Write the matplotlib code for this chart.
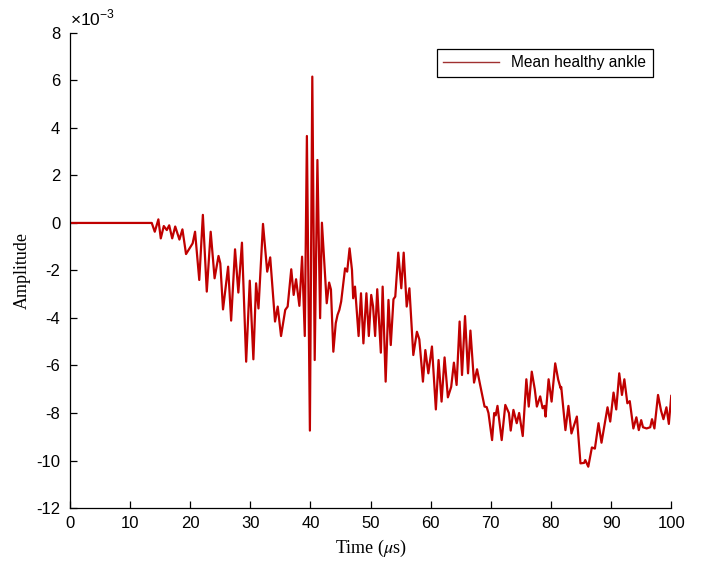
import matplotlib
matplotlib.use("Agg")
import matplotlib.pyplot as plt

plt.rcParams['axes.unicode_minus'] = False
plt.rcParams['mathtext.fontset'] = 'stix'

# time in microseconds
time_us = [0, 13.6, 14.1, 14.7, 15.1, 15.6, 16.1, 16.5, 17.0, 17.5, 18.2, 18.7, 19.3, 20.4, 20.8,
           21.5, 22.1, 22.75, 23.4, 24.05, 24.7, 25.0, 25.45, 26.3, 26.8, 27.45, 28.0, 28.6, 29.3,
           29.9, 30.5, 30.95, 31.35, 32.1, 32.8, 33.3, 34.1, 34.55, 35.1, 35.8, 36.2, 36.8, 37.2,
           37.6, 38.15, 38.6, 39.05, 39.4, 39.9, 40.3, 40.7, 41.15, 41.6, 41.9, 42.4, 42.7, 43.1,
           43.4, 43.8, 44.2, 44.5, 44.8, 45.1, 45.75, 46.1, 46.5, 46.9, 47.1, 47.4, 48.0, 48.4,
           48.8, 49.3, 49.7, 50.1, 50.4, 50.75, 51.1, 51.7, 52.0, 52.5, 52.97, 53.35, 53.8, 54.1,
           54.6, 55.1, 55.5, 56.0, 56.45, 57.1, 57.7, 58.1, 58.7, 59.1, 59.6, 60.2, 60.85, 61.3,
           61.8, 62.3, 62.85, 63.4, 63.85, 64.3, 64.8, 65.2, 65.7, 66.2, 66.6, 67.2, 67.7, 68.2,
           68.95, 69.3, 69.6, 70.2, 70.55, 70.8, 71.1, 71.8, 72.4, 73.0, 73.3, 73.75, 74.3, 74.7,
           75.3, 75.9, 76.3, 76.8, 77.3, 77.65, 78.2, 78.6, 78.9, 79.1, 79.6, 80.1, 80.7, 81.2,
           81.6, 81.7, 82.4, 82.9, 83.4, 84.3, 84.9, 85.5, 85.7, 86.2, 86.8, 87.3, 87.9, 88.4,
           89.4, 89.85, 90.4, 90.85, 91.35, 91.8, 92.2, 92.7, 93.1, 93.7, 94.2, 94.6, 95.0, 95.3,
           95.9, 96.5, 96.8, 97.2, 97.8, 98.3, 98.7, 99.2, 99.6, 100.0]

# amplitude in units of 1e-3
amplitude_e3 = [0, 0, -0.37, 0.15, -0.65, -0.13, -0.3, -0.1, -0.65, -0.15, -0.7, -0.27, -1.31,
                -0.86, -0.37, -2.4, 0.34, -2.89, -0.37, -2.33, -1.39, -1.7, -3.64, -1.84, -4.11,
                -1.11, -2.93, -0.83, -5.84, -2.43, -5.74, -2.54, -3.6, -0.04, -2.05, -1.45, -4.15,
                -3.52, -4.76, -3.66, -3.52, -1.95, -3.03, -2.37, -3.49, -1.42, -4.76, 3.66, -8.74,
                6.16, -5.77, 2.65, -4.01, 0.01, -2.1, -3.38, -2.51, -2.8, -5.42, -4.22, -3.87,
                -3.66, -3.31, -1.91, -2.05, -1.07, -1.98, -3.17, -2.68, -4.76, -2.96, -5.07, -2.96,
                -4.76, -3.03, -3.5, -4.76, -2.79, -5.46, -2.68, -6.68, -3.24, -5.14, -3.21, -3.1,
                -1.25, -2.75, -1.25, -3.52, -2.75, -5.56, -4.58, -4.9, -6.68, -5.35, -6.33, -5.2,
                -7.85, -5.77, -7.52, -5.66, -7.34, -6.9, -5.88, -6.82, -4.15, -6.4, -3.92, -6.33,
                -4.53, -6.72, -6.16, -6.8, -7.73, -7.75, -8.0, -9.14, -8.0, -8.1, -7.7, -9.14, -7.66,
                -8.0, -8.74, -7.87, -8.43, -8.0, -8.97, -6.58, -7.73, -6.26, -7.0, -7.73, -7.3,
                -7.8, -7.7, -8.15, -6.58, -7.52, -5.91, -6.6, -6.96, -6.9, -8.72, -7.7, -8.86,
                -8.15, -10.12, -10.1, -9.98, -10.26, -9.45, -9.5, -8.43, -9.25, -7.76, -8.36,
                -7.14, -7.85, -6.33, -7.24, -6.58, -7.59, -7.5, -8.65, -8.18, -8.72, -8.3, -8.6,
                -8.65, -8.6, -8.26, -8.65, -7.24, -7.9, -8.26, -7.76, -8.46, -7.28]

x_ticks = [0, 10, 20, 30, 40, 50, 60, 70, 80, 90, 100]
y_ticks_e3 = [-12, -10, -8, -6, -4, -2, 0, 2, 4, 6, 8]

fig = plt.figure(figsize=(7.02, 5.67), dpi=100)
ax = fig.add_axes([0.0997, 0.104, 0.8565, 0.838])

ax.plot(time_us, amplitude_e3, color='#c00000', lw=1.6, label='Mean healthy ankle')

ax.set_xlim(0, 100)
ax.set_ylim(-12, 8)
ax.set_xticks(x_ticks)
ax.set_yticks(y_ticks_e3)
ax.set_xticklabels([str(v) for v in x_ticks])
ax.set_yticklabels([str(v) for v in y_ticks_e3])

ax.text(0.0, 1.01, '×10$^{\\mathregular{-3}}$', transform=ax.transAxes, ha='left', va='bottom',
        family='Liberation Sans', fontsize=12.5, math_fontfamily='dejavusans')

for s in ['top', 'right']:
    ax.spines[s].set_visible(False)
for s in ['left', 'bottom']:
    ax.spines[s].set_linewidth(0.9)
ax.tick_params(direction='in', length=5, width=0.9, labelsize=12)
ax.tick_params(axis='x', pad=6)
ax.tick_params(axis='y', pad=7)
for lab in ax.get_xticklabels() + ax.get_yticklabels():
    lab.set_family('Liberation Sans')

ax.set_xlabel('Time ($\\mu$s)', family='Liberation Serif', fontsize=13, labelpad=5)
ax.set_ylabel('Amplitude', family='Liberation Serif', fontsize=13, labelpad=4)

leg = ax.legend(loc='upper right', bbox_to_anchor=(0.982, 0.982), fancybox=False,
                framealpha=1, edgecolor='black', handlelength=3.6,
                prop={'family': 'Liberation Sans', 'size': 11.2})
leg.get_frame().set_linewidth(0.9)
leg.get_lines()[0].set_linewidth(1.0)
leg.get_lines()[0].set_color('#a03030')

fig.savefig('out.png', dpi=100)
